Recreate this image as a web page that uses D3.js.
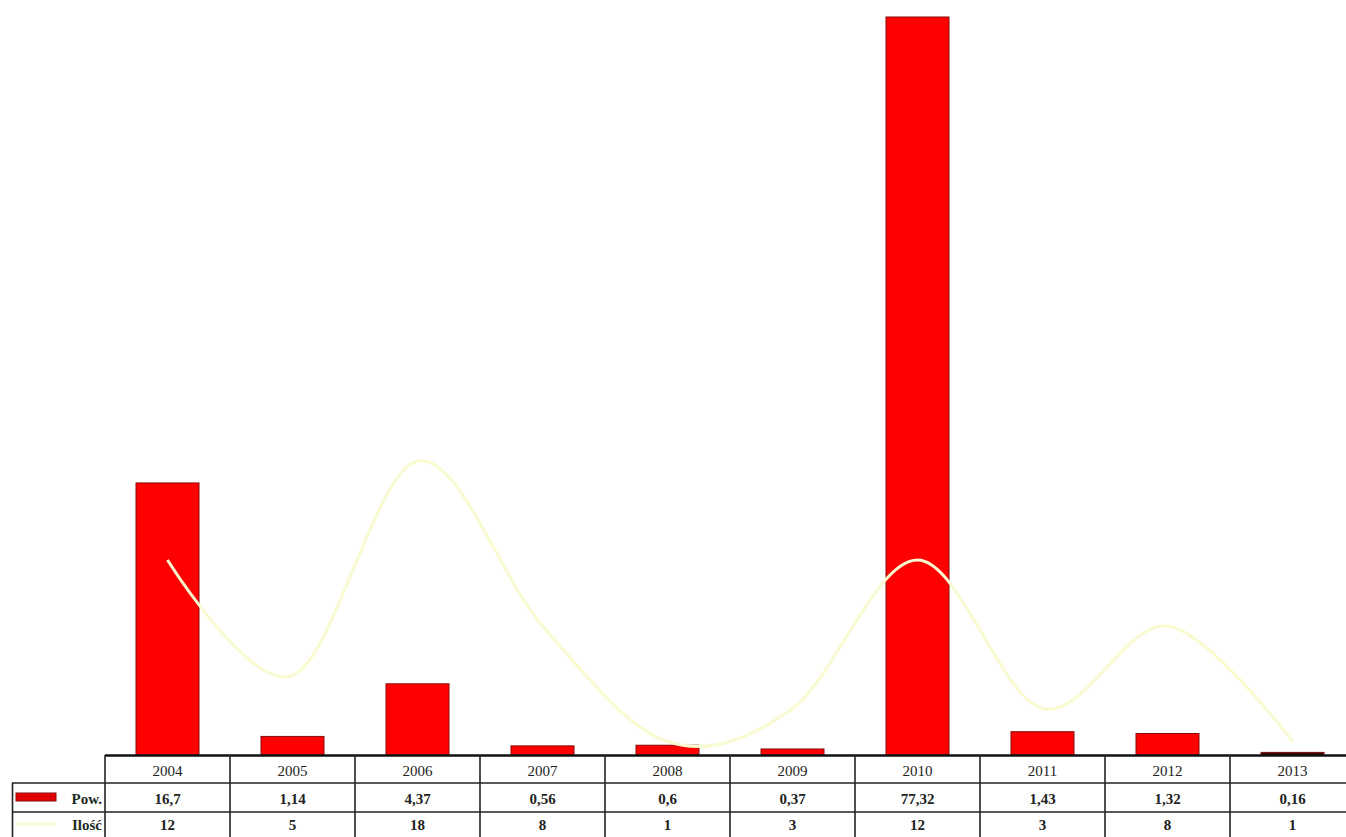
<!DOCTYPE html>
<html><head><meta charset="utf-8">
<script src="https://cdn.jsdelivr.net/npm/d3@7/dist/d3.min.js"></script>
<style>
html,body{margin:0;padding:0;background:#fff;}
svg{display:block;font-family:"Liberation Serif","DejaVu Serif",serif;}
</style></head>
<body>
<svg id="chart" width="1346" height="837"></svg>
<script>
const years = ["2004","2005","2006","2007","2008","2009","2010","2011","2012","2013"];
const powValues = [16.7, 1.14, 4.37, 0.56, 0.6, 0.37, 77.32, 1.43, 1.32, 0.16];
const powLabels = ["16,7","1,14","4,37","0,56","0,6","0,37","77,32","1,43","1,32","0,16"];
const iloscValues = [12, 5, 18, 8, 1, 3, 12, 3, 8, 1];
const seriesNames = ["Pow.", "Ilość"];

const svg = d3.select("#chart");
const plotLeft = 105, colW = 125, baseY = 755;

const x = d3.scaleBand().domain(years).range([plotLeft, plotLeft + colW * years.length]).paddingInner(0).paddingOuter(0);
const y = d3.scaleLinear().domain([0, 45.3]).range([baseY, 17]).clamp(true);
const y2 = d3.scaleLinear().domain([0, 45]).range([758, 15.5]);

const barW = 63;
svg.append("g").selectAll("rect").data(powValues).join("rect")
  .attr("x", (d,i) => x(years[i]) + x.bandwidth()/2 - barW/2)
  .attr("y", d => y(d))
  .attr("width", barW)
  .attr("height", d => baseY - y(d))
  .attr("fill", (d,i) => i === 9 ? "#2a0a0a" : "#ff0000")
  .attr("stroke", "#8a0a0a")
  .attr("stroke-width", 1);

const line = d3.line()
  .x((d,i) => x(years[i]) + x.bandwidth()/2)
  .y(d => y2(d))
  .curve(d3.curveCardinal.tension(0));
svg.append("path").datum(iloscValues)
  .attr("d", line)
  .attr("fill", "none")
  .attr("stroke", "#f9fad0")
  .attr("stroke-width", 3);

svg.append("line").attr("x1", plotLeft).attr("x2", 1346).attr("y1", baseY+0.5).attr("y2", baseY+0.5)
  .attr("stroke", "#111").attr("stroke-width", 2.5);

const rowYear = [756, 783], rowPow = [783, 812];
const tg = svg.append("g").attr("stroke", "#222").attr("stroke-width", 1.6);
tg.append("line").attr("x1", 12).attr("x2", 1346).attr("y1", rowYear[1]).attr("y2", rowYear[1]);
tg.append("line").attr("x1", 12).attr("x2", 1346).attr("y1", rowPow[1]).attr("y2", rowPow[1]);
tg.append("line").attr("x1", 12.5).attr("x2", 12.5).attr("y1", rowYear[1]).attr("y2", 837);
years.forEach((yr) => {
  const xx = x(yr);
  tg.append("line").attr("x1", xx).attr("x2", xx).attr("y1", baseY).attr("y2", 837);
});

const tx = svg.append("g").attr("fill", "#222").attr("text-anchor", "middle");
years.forEach((yr, i) => {
  const cx = x(yr) + x.bandwidth()/2;
  tx.append("text").attr("x", cx).attr("y", 776).attr("font-size", 15).text(yr);
  tx.append("text").attr("x", cx).attr("y", 804).attr("font-size", 15).attr("font-weight", "bold").text(powLabels[i]);
  tx.append("text").attr("x", cx).attr("y", 830).attr("font-size", 15).attr("font-weight", "bold").text(iloscValues[i]);
});

svg.append("rect").attr("x", 16).attr("y", 793).attr("width", 40).attr("height", 8)
  .attr("fill", "#e00000").attr("stroke", "#8a0a0a").attr("stroke-width", 1);
svg.append("line").attr("x1", 16).attr("x2", 56).attr("y1", 824).attr("y2", 824)
  .attr("stroke", "#f9fad0").attr("stroke-width", 3);
svg.append("text").attr("x", 102).attr("y", 804).attr("text-anchor", "end").attr("font-size", 15)
  .attr("font-weight", "bold").attr("fill", "#1c2b20").text(seriesNames[0]);
svg.append("text").attr("x", 102).attr("y", 830).attr("text-anchor", "end").attr("font-size", 15)
  .attr("font-weight", "bold").attr("fill", "#1c2b20").text(seriesNames[1]);
</script>
</body></html>
